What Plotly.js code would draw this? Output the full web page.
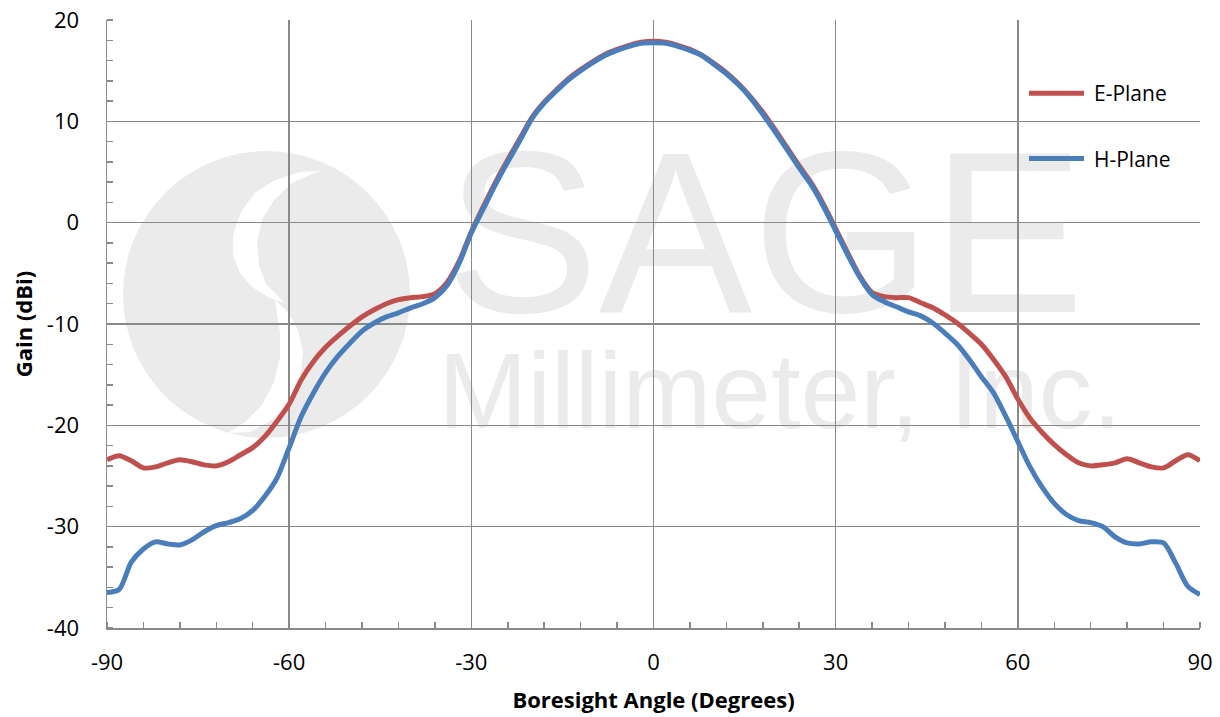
<!DOCTYPE html>
<html><head><meta charset="utf-8">
<script src="https://cdn.plot.ly/plotly-3.0.1.min.js"></script>
<style>html,body{margin:0;padding:0;background:#fff}</style>
</head><body>
<div id="chart" style="width:1220px;height:717px"></div>
<script>
const angles = [-90,-88,-86,-84,-82,-80,-78,-76,-74,-72,-70,-68,-66,-64,-62,-60,-58,-56,-54,-52,-50,-48,-46,-44,-42,-40,-38,-36,-34,-32,-30,-28,-26,-24,-22,-20,-18,-16,-14,-12,-10,-8,-6,-4,-2,0,2,4,6,8,10,12,14,16,18,20,22,24,26,28,30,32,34,36,38,40,42,44,46,48,50,52,54,56,58,60,62,64,66,68,70,72,74,76,78,80,82,84,86,88,90];
const ePlane = [-23.4,-23.0,-23.5,-24.2,-24.1,-23.7,-23.4,-23.6,-23.9,-24.0,-23.6,-22.9,-22.2,-21.1,-19.6,-17.9,-15.5,-13.7,-12.3,-11.2,-10.2,-9.3,-8.6,-8.0,-7.6,-7.4,-7.3,-7.0,-5.9,-3.8,-0.9,1.6,4.0,6.2,8.3,10.4,11.9,13.1,14.2,15.1,15.9,16.6,17.1,17.5,17.8,17.9,17.8,17.5,17.1,16.5,15.7,14.8,13.7,12.4,10.9,9.2,7.4,5.6,3.9,1.8,-0.6,-3.0,-5.3,-6.9,-7.3,-7.4,-7.4,-7.9,-8.4,-9.1,-9.9,-10.9,-12.0,-13.5,-15.2,-17.4,-19.3,-20.7,-21.9,-22.9,-23.7,-24.0,-23.9,-23.7,-23.3,-23.7,-24.1,-24.2,-23.5,-22.9,-23.5];
const hPlane = [-36.5,-36.2,-33.5,-32.2,-31.5,-31.7,-31.8,-31.3,-30.5,-29.9,-29.6,-29.2,-28.4,-27.0,-25.2,-22.2,-19.1,-16.8,-14.8,-13.2,-11.9,-10.7,-9.9,-9.3,-8.9,-8.4,-8.0,-7.4,-6.2,-4.0,-1.0,1.4,3.8,6.0,8.1,10.3,11.8,13.0,14.1,15.0,15.8,16.5,17.0,17.4,17.7,17.75,17.7,17.4,17.0,16.5,15.6,14.7,13.6,12.3,10.7,9.0,7.2,5.4,3.7,1.6,-0.8,-3.2,-5.4,-7.1,-7.8,-8.3,-8.8,-9.2,-9.9,-10.9,-12.0,-13.5,-15.2,-16.8,-19.1,-21.6,-24.1,-26.1,-27.7,-28.8,-29.4,-29.6,-30.0,-31.0,-31.6,-31.7,-31.5,-31.6,-33.6,-35.9,-36.7];
const seriesNames = ["E-Plane","H-Plane"];
const xTickVals = [-90,-60,-30,0,30,60,90];
const xTickText = ["-90","-60","-30","0","30","60","90"];
const yTickVals = [-40,-30,-20,-10,0,10,20];
const yTickText = ["-40","-30","-20","-10","0","10","20"];
const watermarkTitle = "SAGE";
const watermarkSub = "Millimeter, Inc.";

// plot-area pixel helpers (decoration only)
const L = 107, T = 20, W = 1093, H = 608;
const px = x => (x - L) / W;
const py = y => (T + H - y) / H;
const poly = pts => 'M' + pts.map(p => px(p[0]).toFixed(4) + ',' + py(p[1]).toFixed(4)).join(' L') + ' Z';

const wmColor = '#ebebeb';
const font = "'Open Sans', 'Noto Sans', sans-serif";
const gridColor = '#8a8a8a';

const shapes = [
  {type:'circle', xref:'paper', yref:'paper', layer:'below', x0:px(123), x1:px(410), y0:py(438), y1:py(151), fillcolor:wmColor, line:{width:0}},
  {type:'path', xref:'paper', yref:'paper', layer:'below', fillcolor:'#ffffff', line:{width:0},
   path: poly([[322,171],[300,172],[275,180],[255,193],[241,212],[233,235],[233,255],[240,273],[252,287],[270,298],[285,303],[278,296],[266,284],[259,265],[257,243],[262,220],[274,200],[292,183],[312,174]])},
  {type:'path', xref:'paper', yref:'paper', layer:'below', fillcolor:'#ffffff', line:{width:0},
   path: poly([[275,300],[288,312],[298,330],[303,352],[300,378],[290,400],[272,420],[250,432],[228,433],[245,422],[262,405],[274,382],[280,357],[280,333]])},
  {type:'rect', xref:'paper', yref:'paper', layer:'below', x0:px(430), x1:px(1100), y0:py(310), y1:py(110), line:{width:0}, fillcolor:'rgba(0,0,0,0)',
   label:{text:watermarkTitle, font:{family:"'Liberation Sans', Arial, sans-serif", size:230, color:wmColor}, textposition:'middle center'}},
  {type:'rect', xref:'paper', yref:'paper', layer:'below', x0:px(420), x1:px(1140), y0:py(436), y1:py(326), line:{width:0}, fillcolor:'rgba(0,0,0,0)',
   label:{text:watermarkSub, font:{family:"'Liberation Sans', Arial, sans-serif", size:107, color:wmColor}, textposition:'middle center'}}
];

const traces = [
  {x:angles, y:ePlane, name:seriesNames[0], legendgroup:'e', type:'scatter', mode:'lines', line:{color:'#C0504D', width:5, shape:'spline', smoothing:0.8}},
  {x:angles, y:hPlane, name:seriesNames[1], legendgroup:'h', type:'scatter', mode:'lines', line:{color:'#4A7EBB', width:5, shape:'spline', smoothing:0.8}}
];

const layout = {
  width:1220, height:717,
  margin:{l:L, r:1220-L-W, t:T, b:717-T-H},
  paper_bgcolor:'#ffffff', plot_bgcolor:'#ffffff',
  font:{family:font, size:22, color:'#000'},
  showlegend:true,
  legend:{x:px(1024), y:py(73), xanchor:'left', yanchor:'top', bgcolor:'rgba(0,0,0,0)', font:{family:font, size:21, color:'#000'}, tracegroupgap:35, itemwidth:60},
  xaxis:{range:[-90,90], tickvals:xTickVals, ticktext:xTickText, showgrid:true, gridcolor:gridColor, gridwidth:1.5, zeroline:false,
    showline:true, linecolor:gridColor, linewidth:1.5, mirror:false, ticks:'', ticklabelstandoff:14,
    minor:{dtick:6, ticks:'inside', ticklen:6, tickcolor:gridColor, tickwidth:1.5, showgrid:false},
    title:{text:'Boresight Angle (Degrees)', font:{family:font, size:22, weight:700}, standoff:17}, tickfont:{family:font, size:22}},
  yaxis:{range:[-40,20], tickvals:yTickVals, ticktext:yTickText, showgrid:true, gridcolor:gridColor, gridwidth:1.5, zeroline:false,
    showline:true, linecolor:gridColor, linewidth:1.5, ticks:'', ticklabelstandoff:22,
    minor:{dtick:2, ticks:'inside', ticklen:6, tickcolor:gridColor, tickwidth:1.5, showgrid:false},
    title:{text:'Gain (dBi)', font:{family:font, size:22, weight:700}, standoff:8}, tickfont:{family:font, size:22}},
  shapes:shapes
};

Plotly.newPlot('chart', traces, layout, {displayModeBar:false, staticPlot:true}).then(gd => {
  gd.querySelectorAll('.legend .legendlines path').forEach(p => p.setAttribute('d', 'M5,0h55'));
});
</script>
</body></html>
